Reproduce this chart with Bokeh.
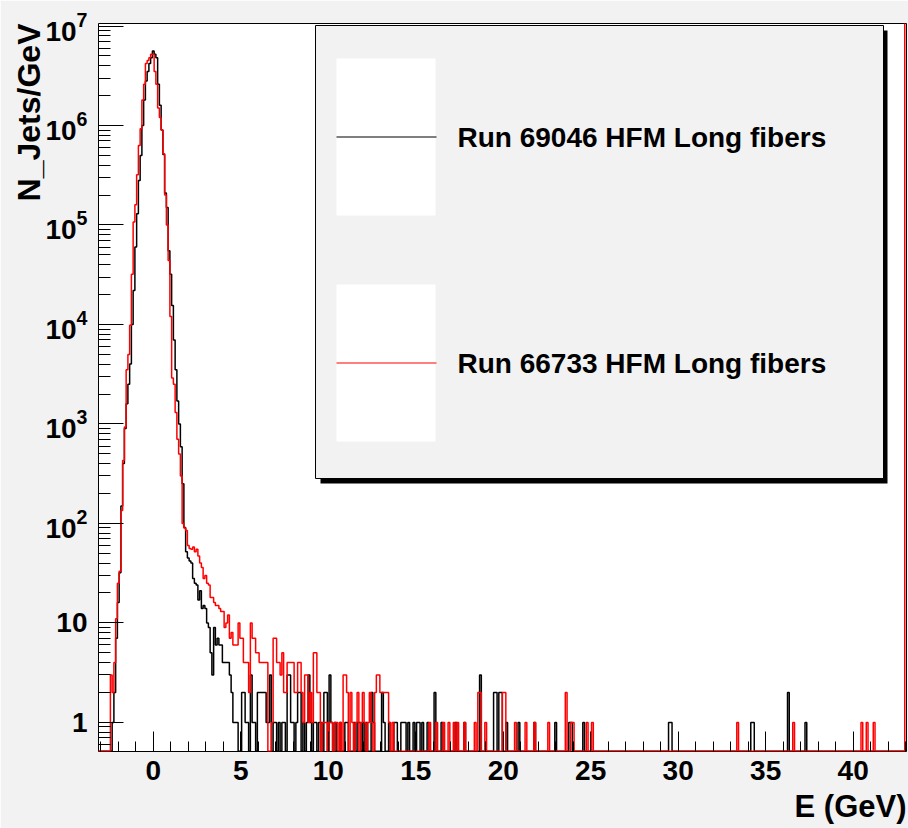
import numpy as np
from bokeh.plotting import figure
from bokeh.models import (Label, BoxAnnotation, PolyAnnotation, LogTickFormatter, LogTicker,
                          SingleIntervalTicker, Range1d, Title)
from bokeh.embed import file_html
from bokeh.resources import INLINE

# ---------------- data ----------------
BIN_WIDTH = 0.1  # GeV

# Run 69046 (black): consecutive bins starting at bin centre -2.5 GeV
black_core_start = -2.5
black_core = [0, 0, 1, 2, 7, 16, 32, 150, 400, 900,
              1600, 2500, 4000, 10000, 22000, 60000, 130000, 280000, 500000, 1000000,
              1800000, 2800000, 3500000, 4200000, 4800000, 5600000, 5200000, 4800000, 2600000, 1600000,
              900000, 510000, 210000, 150000, 55000, 32000, 15500, 7000, 3500, 1700,
              1000, 590, 250, 91, 52, 45, 42, 40, 28, 25,
              24, 17, 21, 14, 15, 14, 10, 9, 5, 3,
              9, 6, 7, 6, 6, 4, 4, 4, 4, 3,
              2, 1, 1, 1, 0, 0, 2, 2, 1, 1,
              0, 3, 1, 1, 0, 2, 2, 2, 2, 2,
              1, 1, 3, 0, 1, 1]
# sparse tail (bin centre, count)
black_tail_e = [7.2, 7.4, 7.5, 7.7, 7.8, 7.9, 8.0, 8.2, 8.3, 8.4, 8.6, 8.8, 8.9, 9.0, 9.2,
                9.3, 9.5, 9.6, 9.8, 9.9, 10.1, 10.2, 10.4, 10.7, 11.0, 11.1, 11.5, 11.7,
                11.8, 12.0, 12.2, 12.5, 12.6, 13.1, 13.2, 13.5, 13.8, 13.9, 14.2, 14.3,
                14.4, 14.6, 14.9, 15.1, 15.2, 15.4, 15.7, 16.1, 16.5, 17.3, 17.8, 18.7,
                19.5, 19.6, 19.8, 19.9, 20.2, 20.9, 21.8, 23.0, 23.8, 23.9, 24.6, 29.5,
                29.6, 34.2, 34.3, 36.3, 37.3]
black_tail_n = [1, 1, 1, 3, 3, 1, 1, 1, 2, 2, 1, 1, 3, 1, 1,
                1, 1, 1, 2, 2, 3, 1, 1, 1, 1, 1, 1, 1,
                1, 1, 1, 2, 1, 2, 1, 1, 1, 1, 1, 1,
                1, 1, 1, 1, 1, 1, 1, 2, 1, 1, 1, 3,
                2, 2, 2, 2, 1, 1, 1, 1, 1, 1, 1, 1,
                1, 1, 1, 2, 1]

# Run 66733 (red): consecutive bins starting at bin centre -2.6 GeV
red_core_start = -2.6
red_core = [0, 0, 3, 2, 4, 11, 25, 33, 135, 430,
            930, 3500, 5000, 9800, 32000, 107000, 160000, 320000, 630000, 930000,
            1800000, 2600000, 4200000, 4500000, 4800000, 5200000, 5200000, 3500000, 2600000, 1500000,
            1200000, 900000, 520000, 200000, 100000, 44000, 12000, 2900, 2500, 1300,
            700, 500, 300, 100, 90, 85, 60, 56, 55, 58,
            52, 55, 47, 40, 36, 28, 30, 25, 24, 18,
            18, 16, 15, 15, 14, 13, 13, 9, 10, 12,
            7, 8, 6, 6, 6, 10, 7, 7, 4, 4,
            4, 2, 10, 7, 7, 5, 5, 4, 4, 4,
            4, 4, 0, 0, 1, 7, 7, 4, 4, 3,
            5, 2, 2, 4, 4, 4, 4, 2, 2, 4,
            4, 2, 1, 3, 3, 1, 2, 1, 5, 5,
            2, 2]
red_tail_e = [9.7, 9.8, 9.9, 10.1, 10.2, 10.4, 10.5, 10.7, 10.9, 11.0, 11.1, 11.3, 11.4,
              11.6, 11.7, 11.9, 12.0, 12.1, 12.3, 12.4, 12.5, 12.7, 12.8, 12.9, 13.0,
              13.1, 13.2, 13.3, 13.4, 13.5, 13.7, 15.8, 16.2, 16.6, 16.9, 17.2, 17.4,
              17.8, 18.4, 18.6, 18.7, 19.0, 20.0, 20.1, 20.7, 21.3, 21.8, 22.6, 23.6,
              23.9, 24.0, 24.8, 25.1, 33.4, 36.6, 40.5, 40.8, 41.2, 43.0]
red_tail_n = [1, 1, 1, 1, 1, 1, 1, 1, 3, 3, 2, 2, 1,
              1, 2, 1, 2, 1, 1, 2, 1, 2, 3, 3, 2,
              2, 2, 2, 2, 1, 1, 1, 1, 1, 1, 1, 1,
              1, 1, 2, 2, 1, 2, 2, 1, 1, 1, 1, 2,
              1, 1, 1, 1, 1, 1, 1, 1, 1, 1e9]  # last bin is off scale

series_labels = ["Run 69046 HFM Long fibers", "Run 66733 HFM Long fibers"]
x_tick_labels = ["0", "5", "10", "15", "20", "25", "30", "35", "40"]
x_title = "E (GeV)"
y_title = "N_Jets/GeV"

# ---------------- helpers ----------------
X_MIN, X_MAX = -3.13, 43.05
Y_MIN, Y_MAX = 0.51, 1.06e7
FIRST_CENTRE, LAST_CENTRE = -3.1, 43.0


def step_path(core_start, core, tail_e, tail_n):
    counts = {}
    for i, n in enumerate(core):
        counts[round(core_start + i * BIN_WIDTH, 1)] = n
    for e, n in zip(tail_e, tail_n):
        counts[round(e, 1)] = n
    nb = int(round((LAST_CENTRE - FIRST_CENTRE) / BIN_WIDTH)) + 1
    xs, ys = [], []
    floor = Y_MIN * 1.004
    for k in range(nb):
        c = round(FIRST_CENTRE + k * BIN_WIDTH, 1)
        v = counts.get(c, 0)
        v = v if v > 0 else floor
        xs += [c - BIN_WIDTH / 2, c + BIN_WIDTH / 2]
        ys += [v, v]
    return xs, ys


BG = "#f2f2f2"
FONT = "Liberation Sans"

p = figure(width=908, height=828, output_backend="svg", toolbar_location=None,
           y_axis_type="log",
           x_range=Range1d(X_MIN, X_MAX), y_range=Range1d(Y_MIN, Y_MAX),
           min_border_left=98, min_border_right=2, min_border_top=23, min_border_bottom=77)
p.border_fill_color = BG
p.background_fill_color = "white"
p.outline_line_color = "black"
p.outline_line_width = 1
p.xgrid.visible = False
p.ygrid.visible = False

bx, by = step_path(black_core_start, black_core, black_tail_e, black_tail_n)
rx, ry = step_path(red_core_start, red_core, red_tail_e, red_tail_n)
p.line(bx, by, line_color="black", line_width=1.5)
p.line(rx, ry, line_color="#ff0000", line_width=1.5)

# axes
p.xaxis.ticker = SingleIntervalTicker(interval=5, num_minor_ticks=5)
p.xaxis.major_label_overrides = {i * 5: t for i, t in enumerate(x_tick_labels)}
p.yaxis.ticker = LogTicker(num_minor_ticks=10)
p.yaxis.formatter = LogTickFormatter(min_exponent=1)
p.yaxis.major_label_overrides = {1: "1", 10: "10"}
for ax in (p.xaxis[0], p.yaxis[0]):
    ax.axis_line_color = None
    ax.major_tick_out = 0
    ax.minor_tick_out = 0
    ax.major_tick_line_color = "black"
    ax.minor_tick_line_color = "black"
    ax.major_label_text_font = FONT
    ax.major_label_text_font_style = "bold"
    ax.major_label_text_font_size = "28px"
    ax.major_label_text_color = "black"
p.xaxis.major_tick_in = 20
p.xaxis.minor_tick_in = 10
p.xaxis.major_label_standoff = 9
p.yaxis.major_tick_in = 25
p.yaxis.minor_tick_in = 12
p.yaxis.major_label_standoff = 11

# axis titles (right / top aligned, ROOT style)
xt = Title(text=x_title, align="right", text_font=FONT, text_font_style="bold",
           text_font_size="31px", text_color="black", standoff=9, offset=0)
yt = Title(text=y_title, align="right", text_font=FONT, text_font_style="bold",
           text_font_size="32px", text_color="black", standoff=0, offset=0)
try:
    yt.standoff = -8
except Exception:
    yt.standoff = 0
p.add_layout(xt, "below")
p.add_layout(yt, "left")

# legend (drawn by hand, ROOT style)
def sbox(l, r, t, b, **kw):
    return BoxAnnotation(left=l, right=r, top=t, bottom=b, left_units="screen",
                         right_units="screen", top_units="screen", bottom_units="screen", **kw)

p.add_layout(sbox(222, 789, 721, 268, fill_color="black", fill_alpha=1, line_color=None))
p.add_layout(sbox(217, 785, 726, 273, fill_color=BG, fill_alpha=1, line_color="black",
                  line_alpha=1, line_width=1))
entries_y = [614, 388]
colors = ["black", "#ff0000"]
for yc, col, lab in zip(entries_y, colors, series_labels):
    p.add_layout(sbox(238, 337, yc + 79, yc - 78, fill_color="white", fill_alpha=1,
                      line_color=None))
    p.add_layout(PolyAnnotation(xs=[238, 338], ys=[yc + 0.5, yc + 0.5],
                                xs_units="screen", ys_units="screen",
                                fill_color=None, fill_alpha=0, line_color=col,
                                line_alpha=1, line_width=1.2))
    p.add_layout(Label(x=359, y=yc, x_units="screen", y_units="screen", text=lab,
                       text_align="left", text_baseline="middle", text_font=FONT,
                       text_font_style="bold", text_font_size="28px", text_color="black"))

open("out.html", "w").write(file_html(p, INLINE))
